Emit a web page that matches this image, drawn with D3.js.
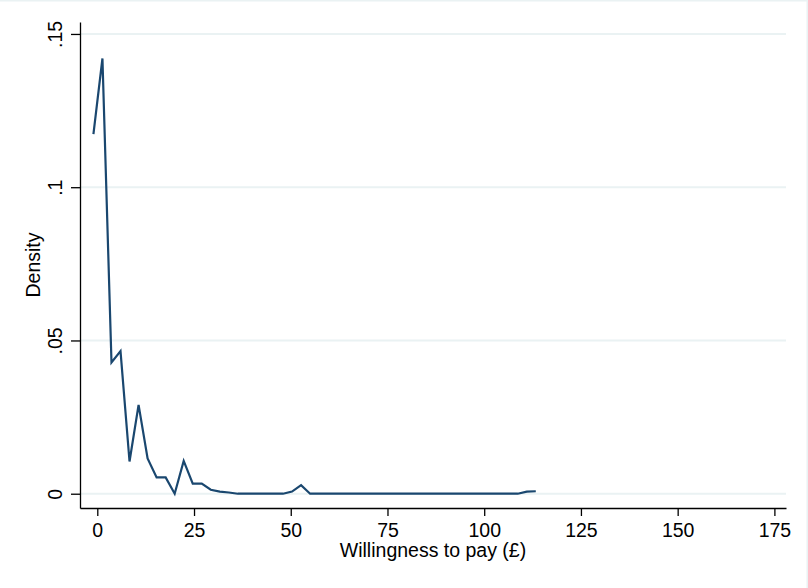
<!DOCTYPE html>
<html>
<head>
<meta charset="utf-8">
<script src="https://cdn.jsdelivr.net/npm/d3@7"></script>
<style>
  html, body { margin: 0; padding: 0; background: #fff; }
  svg { display: block; }
  text { font-family: Arial, "Liberation Sans", sans-serif; fill: #000; }
</style>
</head>
<body>
<svg id="chart" width="808" height="588"></svg>
<script>
/* =========================
   DATA
========================= */
const wtp = [
  -1.0, 1.33, 3.67, 6.0, 8.33, 10.67, 13.0, 15.33, 17.67, 20.0,
  22.33, 24.67, 27.0, 29.33, 31.67, 34.0, 36.33, 38.67, 41.0, 43.33,
  45.67, 48.0, 50.33, 52.67, 55.0, 57.33, 59.67, 62.0, 64.33, 66.67,
  69.0, 71.33, 73.67, 76.0, 78.33, 80.67, 83.0, 85.33, 87.67, 90.0,
  92.33, 94.67, 97.0, 99.33, 101.67, 104.0, 106.33, 108.67, 111.0, 113.33
];
const density = [
  0.1173, 0.1420, 0.0428, 0.0465, 0.0105, 0.0290, 0.0115, 0.0053, 0.0053, 0.0000,
  0.0107, 0.0033, 0.0033, 0.0013, 0.0007, 0.0004, 0.0000, 0.0000, 0.0000, 0.0000,
  0.0000, 0.0000, 0.0007, 0.0028, 0.0000, 0.0000, 0.0000, 0.0000, 0.0000, 0.0000,
  0.0000, 0.0000, 0.0000, 0.0000, 0.0000, 0.0000, 0.0000, 0.0000, 0.0000, 0.0000,
  0.0000, 0.0000, 0.0000, 0.0000, 0.0000, 0.0000, 0.0000, 0.0000, 0.0007, 0.0008
];
const xTicks = [0, 25, 50, 75, 100, 125, 150, 175];
const yTicks = [0, 0.05, 0.1, 0.15];
const yTickLabels = ["0", ".05", ".1", ".15"];

/* =========================
   SETUP
========================= */
const svg = d3.select("#chart");
const plotLeft = 80, plotRight = 786, plotTop = 22, plotBottom = 508;
const fontSize = "19.5px";

const x = d3.scaleLinear().domain([-4.47, 178.0]).range([plotLeft, plotRight]);
const y = d3.scaleLinear().domain([-0.00466, 0.1539]).range([plotBottom, plotTop]);

// faint outer frame (top + right edges)
svg.append("line").attr("x1", 0).attr("x2", 808).attr("y1", 0.75).attr("y2", 0.75)
  .attr("stroke", "#eaf2f3").attr("stroke-width", 1.5);
svg.append("line").attr("x1", 807.25).attr("x2", 807.25).attr("y1", 0).attr("y2", 588)
  .attr("stroke", "#eaf2f3").attr("stroke-width", 1.5);

/* ===== GRID ===== */
svg.append("g")
  .selectAll("line")
  .data(yTicks)
  .join("line")
  .attr("x1", plotLeft).attr("x2", plotRight)
  .attr("y1", d => y(d)).attr("y2", d => y(d))
  .attr("stroke", "#eaf2f3")
  .attr("stroke-width", 2);

/* ===== DENSITY LINE ===== */
const pts = wtp.map((v, i) => [v, density[i]]);
svg.append("path")
  .datum(pts)
  .attr("fill", "none")
  .attr("stroke", "#1a476f")
  .attr("stroke-width", 2.2)
  .attr("stroke-linejoin", "miter")
  .attr("d", d3.line().x(d => x(d[0])).y(d => y(d[1])));

/* ===== AXES ===== */
const xAxis = svg.append("g")
  .attr("transform", `translate(0,${plotBottom})`)
  .call(d3.axisBottom(x).tickValues(xTicks).tickSize(8).tickPadding(6).tickSizeOuter(0));
xAxis.select(".domain").attr("stroke", "#000").attr("stroke-width", 1.3);
xAxis.selectAll(".tick line").attr("stroke", "#000").attr("stroke-width", 1.3);
xAxis.selectAll(".tick text")
  .attr("font-size", fontSize).attr("font-family", "Arial, 'Liberation Sans', sans-serif")
  .attr("fill", "#000").attr("dy", "0.78em");

const yAxis = svg.append("g")
  .attr("transform", `translate(${plotLeft},0)`)
  .call(d3.axisLeft(y).tickValues(yTicks).tickFormat((d, i) => yTickLabels[i]).tickSize(9).tickSizeOuter(0));
yAxis.select(".domain").attr("stroke", "#000").attr("stroke-width", 1.3);
yAxis.selectAll(".tick line").attr("stroke", "#000").attr("stroke-width", 1.3);
yAxis.selectAll(".tick text")
  .attr("font-size", fontSize).attr("font-family", "Arial, 'Liberation Sans', sans-serif")
  .attr("fill", "#000")
  .attr("x", null).attr("dy", null)
  .attr("text-anchor", "middle")
  .attr("transform", "translate(-18,0) rotate(-90)");

/* ===== TITLES ===== */
svg.append("text")
  .attr("x", (plotLeft + plotRight) / 2)
  .attr("y", 557)
  .attr("text-anchor", "middle")
  .attr("font-size", fontSize)
  .text("Willingness to pay (£)");

svg.append("text")
  .attr("transform", `translate(40,${(plotTop + plotBottom) / 2}) rotate(-90)`)
  .attr("text-anchor", "middle")
  .attr("font-size", fontSize)
  .text("Density");
</script>
</body>
</html>
